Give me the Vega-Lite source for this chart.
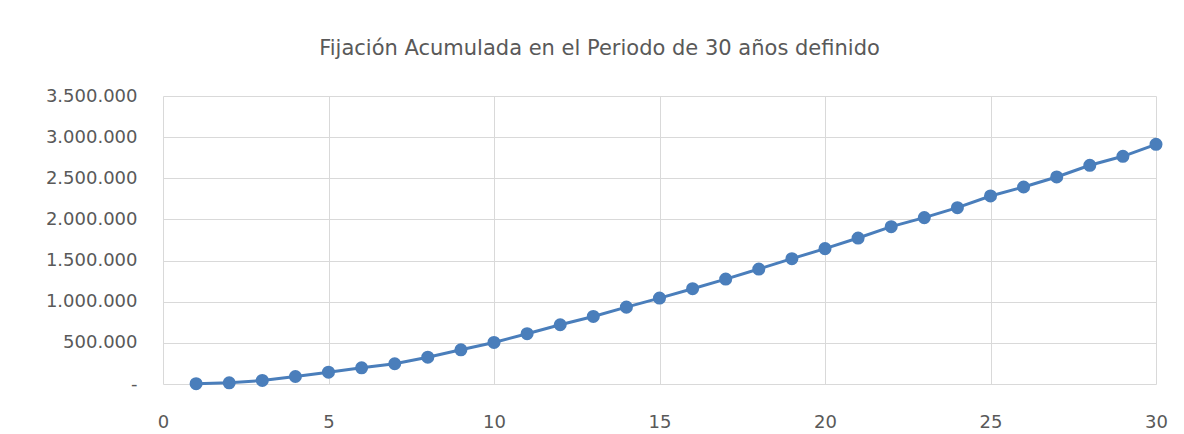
{
  "$schema": "https://vega.github.io/schema/vega-lite/v6.json",
  "autosize": "none",
  "padding": {"left": 163, "top": 96, "right": 28, "bottom": 50},
  "width": 993,
  "height": 288,
  "background": "white",
  "title": {
    "text": "Fijación Acumulada en el Periodo de 30 años definido",
    "anchor": "middle",
    "dx": -60,
    "offset": 28,
    "font": "DejaVu Sans",
    "fontSize": 21,
    "fontWeight": "normal",
    "color": "#595959"
  },
  "data": {
    "values": [
      {"anio": 1, "fijacion": 4000},
      {"anio": 2, "fijacion": 15000},
      {"anio": 3, "fijacion": 43000},
      {"anio": 4, "fijacion": 91000},
      {"anio": 5, "fijacion": 144000},
      {"anio": 6, "fijacion": 197000},
      {"anio": 7, "fijacion": 246000},
      {"anio": 8, "fijacion": 326000},
      {"anio": 9, "fijacion": 416000},
      {"anio": 10, "fijacion": 505000},
      {"anio": 11, "fijacion": 611000},
      {"anio": 12, "fijacion": 720000},
      {"anio": 13, "fijacion": 821000},
      {"anio": 14, "fijacion": 934000},
      {"anio": 15, "fijacion": 1044000},
      {"anio": 16, "fijacion": 1158000},
      {"anio": 17, "fijacion": 1275000},
      {"anio": 18, "fijacion": 1397000},
      {"anio": 19, "fijacion": 1523000},
      {"anio": 20, "fijacion": 1645000},
      {"anio": 21, "fijacion": 1774000},
      {"anio": 22, "fijacion": 1912000},
      {"anio": 23, "fijacion": 2022000},
      {"anio": 24, "fijacion": 2143000},
      {"anio": 25, "fijacion": 2285000},
      {"anio": 26, "fijacion": 2394000},
      {"anio": 27, "fijacion": 2516000},
      {"anio": 28, "fijacion": 2658000},
      {"anio": 29, "fijacion": 2767000},
      {"anio": 30, "fijacion": 2913000}
    ]
  },
  "mark": {
    "type": "line",
    "color": "#4a7ebb",
    "strokeWidth": 3,
    "point": {"filled": true, "size": 170, "color": "#4a7ebb", "opacity": 1}
  },
  "encoding": {
    "x": {
      "field": "anio",
      "type": "quantitative",
      "scale": {"domain": [0, 30], "nice": false},
      "axis": {
        "title": null,
        "values": [0, 5, 10, 15, 20, 25, 30],
        "domain": false,
        "ticks": false,
        "grid": true,
        "gridColor": "#d9d9d9",
        "gridWidth": 1,
        "labelPadding": 29,
        "labelFont": "DejaVu Sans",
        "labelFontSize": 18,
        "labelColor": "#595959",
        "labelFlush": false
      }
    },
    "y": {
      "field": "fijacion",
      "type": "quantitative",
      "scale": {"domain": [0, 3500000], "nice": false},
      "axis": {
        "title": null,
        "values": [0, 500000, 1000000, 1500000, 2000000, 2500000, 3000000, 3500000],
        "labelExpr": "datum.value == 0 ? '-' : replace(format(datum.value, ',d'), /,/g, '.')",
        "domain": false,
        "ticks": false,
        "grid": true,
        "gridColor": "#d9d9d9",
        "gridWidth": 1,
        "labelPadding": 26,
        "labelFont": "DejaVu Sans",
        "labelFontSize": 18,
        "labelColor": "#595959"
      }
    }
  },
  "config": {"view": {"stroke": null}}
}
